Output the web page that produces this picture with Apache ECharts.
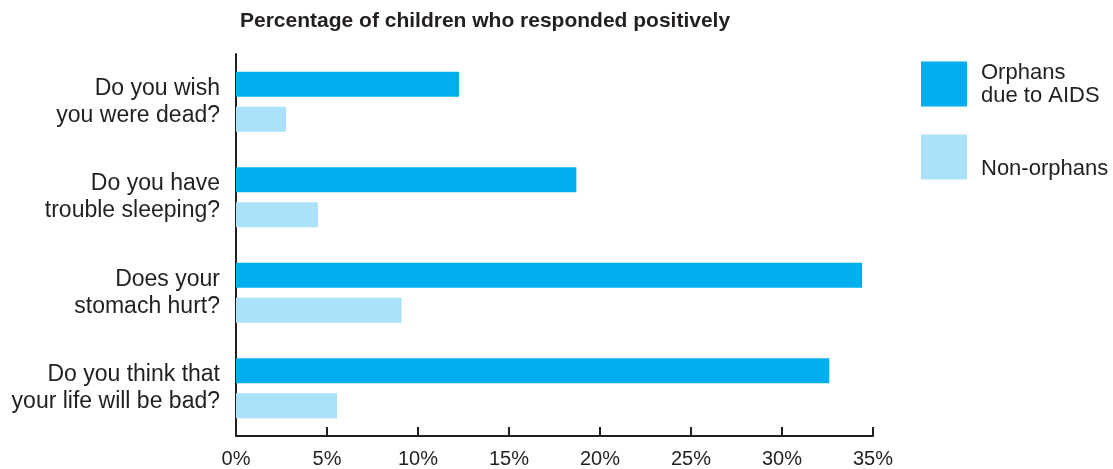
<!DOCTYPE html>
<html>
<head>
<meta charset="utf-8">
<style>
  html, body { margin: 0; padding: 0; background: #ffffff; }
  #chart { width: 1113px; height: 469px; }
</style>
<script src="https://cdn.jsdelivr.net/npm/echarts@6/dist/echarts.min.js"></script>
</head>
<body>
<div id="chart"></div>
<script>
// Survey questions (top to bottom)
const questions = [
  'Do you wish\nyou were dead?',
  'Do you have\ntrouble sleeping?',
  'Does your\nstomach hurt?',
  'Do you think that\nyour life will be bad?'
];

// Percentage answering "yes"
const orphansAids = [12.25, 18.7, 34.4, 32.6];
const nonOrphans = [2.75, 4.5, 9.1, 5.55];

// Value axis ticks
const tickValues = [0, 5, 10, 15, 20, 25, 30, 35];

const seriesNames = ['Orphans due to AIDS', 'Non-orphans'];

const textColor = '#231f20';
const fontFamily = '"Liberation Sans", Arial, sans-serif';

const chart = echarts.init(document.getElementById('chart'), null, { renderer: 'canvas' });

chart.setOption({
  animation: false,
  backgroundColor: '#ffffff',
  textStyle: { fontFamily: fontFamily, color: textColor },
  title: {
    text: 'Percentage of children who responded positively',
    left: 235,
    top: 6,
    textStyle: { fontSize: 21, fontWeight: 'bold', color: textColor, fontFamily: fontFamily }
  },
  legend: {
    orient: 'vertical',
    left: 921,
    top: 58,
    padding: 0,
    itemWidth: 46,
    itemHeight: 45,
    itemGap: 21,
    itemStyle: { borderWidth: 0 },
    selectedMode: false,
    formatter: function (name) {
      return name === seriesNames[0] ? 'Orphans\ndue to AIDS' : '\n' + name;
    },
    textStyle: { fontSize: 22, lineHeight: 23, color: textColor, fontFamily: fontFamily, padding: [6, 0, 0, 9] },
    data: seriesNames.map(n => ({ name: n, icon: 'rect' }))
  },
  grid: { left: 236, right: 240, top: 54, bottom: 31, containLabel: false },
  xAxis: {
    type: 'value',
    min: tickValues[0],
    max: tickValues[tickValues.length - 1],
    interval: 5,
    axisLine: { show: true, lineStyle: { color: textColor, width: 2 } },
    axisTick: { show: true, inside: true, length: 9, lineStyle: { color: textColor, width: 2 } },
    splitLine: { show: false },
    axisLabel: {
      fontSize: 20,
      color: textColor,
      margin: 13,
      formatter: v => v + '%'
    }
  },
  yAxis: {
    type: 'category',
    inverse: true,
    data: questions,
    axisLine: { show: true, lineStyle: { color: textColor, width: 2 } },
    axisTick: { show: false },
    axisLabel: {
      fontSize: 23,
      lineHeight: 27,
      color: textColor,
      margin: 16,
      align: 'right'
    }
  },
  series: [
    {
      name: seriesNames[0],
      type: 'bar',
      data: orphansAids,
      barWidth: 25,
      barGap: '40%',
      itemStyle: { color: '#00aeef' }
    },
    {
      name: seriesNames[1],
      type: 'bar',
      data: nonOrphans,
      barWidth: 25,
      barGap: '40%',
      itemStyle: { color: '#abe1fa' }
    }
  ]
});
</script>
</body>
</html>
